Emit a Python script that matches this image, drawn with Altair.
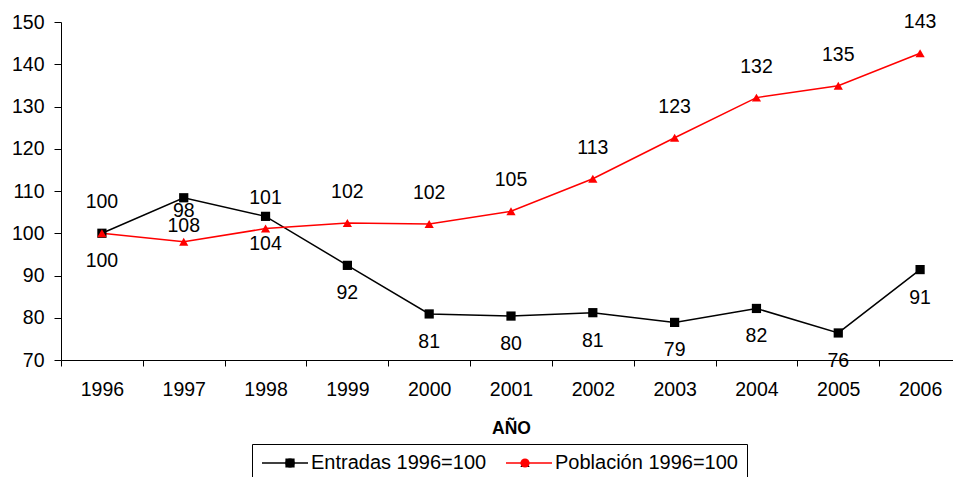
import altair as alt
import pandas as pd

# ---- data ----
years = [str(y) for y in range(1996, 2007)]
entradas = [100, 108.4, 104.0, 92.4, 80.9, 80.4, 81.2, 78.9, 82.2, 76.4, 91.4]
poblacion = [100, 98.0, 101.1, 102.4, 102.2, 105.2, 112.9, 122.6, 132.1, 134.9, 142.6]
series_names = ["Entradas 1996=100", "Población 1996=100"]
series_colors = ["#000000", "#FF0000"]
series_shapes = ["square", "triangle-up"]
y_ticks = [70, 80, 90, 100, 110, 120, 130, 140, 150]

FONT = "Liberation Sans"

df = pd.DataFrame({
    "year": years + years,
    "series": [series_names[0]] * len(years) + [series_names[1]] * len(years),
    "value": entradas + poblacion,
})

x_enc = alt.X(
    "year:N",
    sort=years,
    scale=alt.Scale(type="band", paddingInner=0, paddingOuter=0, range=[0, 900]),
    axis=alt.Axis(
        title="AÑO", titleFont=FONT, titleFontSize=17.5, titleFontWeight="bold",
        titleColor="black", titleY=73, titleBaseline="alphabetic",
        labelAngle=0, labelFont=FONT, labelFontSize=19.5, labelColor="black",
        labelPadding=14, tickSize=6, tickBand="extent", tickColor="black",
        domainColor="black", grid=False,
    ),
)
y_enc = alt.Y(
    "value:Q",
    scale=alt.Scale(domain=[70, 150], nice=False, zero=False),
    axis=alt.Axis(
        title=None, values=y_ticks, labelFont=FONT, labelFontSize=19.5,
        labelColor="black", labelPadding=10, tickSize=7, tickColor="black",
        domainColor="black", grid=False,
    ),
)
color_scale = alt.Scale(domain=series_names, range=series_colors)

# legend A: the line samples, box and labels
leg_lines = alt.Legend(
    orient="none", legendX=191, legendY=422, direction="horizontal", title=None,
    labelFont=FONT, labelFontSize=20, labelColor="black", labelLimit=400,
    strokeColor="black", padding=9, symbolType="stroke", symbolSize=2116,
    symbolStrokeWidth=1.5, clipHeight=20, labelOffset=2, columnPadding=18,
)
# legend B: the markers drawn over the middle of each line sample
leg_marks = alt.Legend(
    orient="none", legendX=210, legendY=422, direction="horizontal", title=None,
    labelFont=FONT, labelFontSize=20, labelOpacity=0, labelLimit=400,
    padding=9, symbolSize=85, symbolStrokeWidth=0, clipHeight=20,
    labelOffset=21, columnPadding=18,
)

base = alt.Chart(df)

lines = base.mark_line(strokeWidth=1.5).encode(
    x=x_enc, y=y_enc,
    color=alt.Color("series:N", scale=color_scale, legend=leg_lines),
)

points = base.mark_point(filled=True, size=85, opacity=1).encode(
    x=x_enc, y=y_enc,
    color=alt.Color("series:N", scale=color_scale, legend=leg_marks),
    shape=alt.Shape("series:N", scale=alt.Scale(domain=series_names, range=series_shapes), legend=leg_marks),
)

labels_e = base.transform_filter(alt.datum.series == series_names[0]).mark_text(
    font=FONT, fontSize=19.5, color="black", dy=28
).encode(x=x_enc, y=y_enc, text=alt.Text("value:Q", format=".0f"))

labels_p = base.transform_filter(alt.datum.series == series_names[1]).mark_text(
    font=FONT, fontSize=19.5, color="black", dy=-31
).encode(x=x_enc, y=y_enc, text=alt.Text("value:Q", format=".0f"))

chart = alt.layer(lines, points, labels_e, labels_p).resolve_legend(
    color="independent"
).properties(
    width=892, height=338,
    padding={"left": 61, "top": 22, "right": 0, "bottom": 117},
    autosize=alt.AutoSizeParams(type="none"),
    background="white",
).configure_view(stroke=None)

chart.save("out.html", embed_options={"renderer": "svg", "actions": False})
